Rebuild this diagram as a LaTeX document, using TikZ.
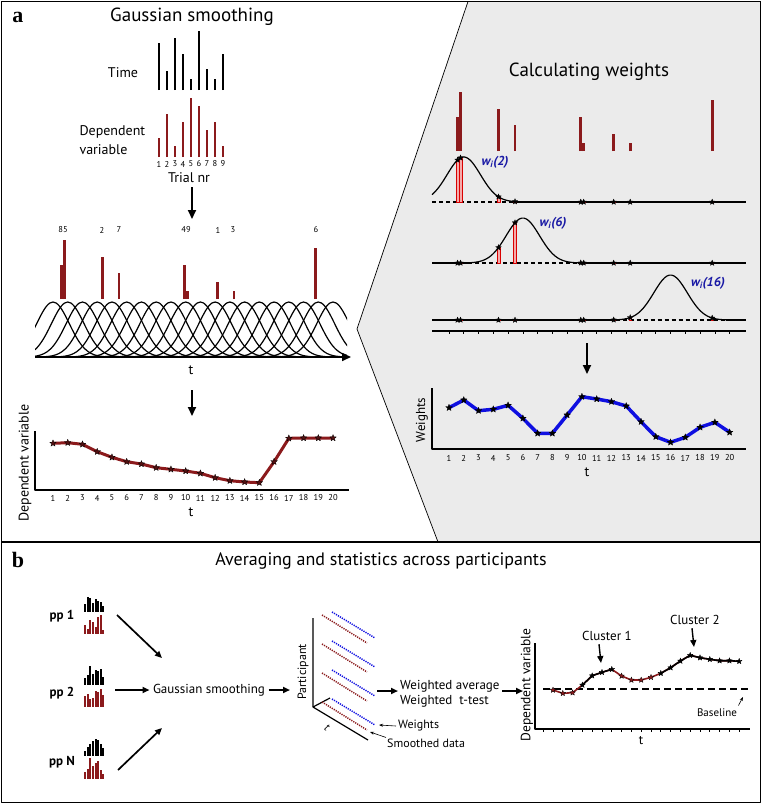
\documentclass[tikz,border=0pt]{standalone}
\usepackage{fontspec}
\setmainfont{PT Sans}
\newfontfamily\panelfont{Liberation Serif}
\usetikzlibrary{arrows.meta,shapes.geometric,positioning,calc}
\definecolor{dred}{RGB}{139,26,28}
\definecolor{wblue}{RGB}{15,15,225}
\definecolor{lblue}{RGB}{25,25,165}
\definecolor{pred}{RGB}{245,170,170}
\newcommand{\fsz}[1]{\fontsize{#1}{#1}\selectfont}

\begin{document}
\begin{tikzpicture}[x=1pt,y=-1pt,>={Triangle[length=9pt,width=8pt]},line join=round]
  \tikzstyle{frame}=[draw, line width=1.4pt]
  \tikzstyle{big}=[font=\fsz{19}]
  \tikzstyle{lab}=[font=\fsz{14}]
  \tikzstyle{num}=[font=\fsz{8.5}, inner sep=0pt]
  \tikzstyle{starpt}=[star, star points=5, star point ratio=2.4, inner sep=0pt,
                      minimum size=7pt, draw=black, fill=black, line width=0.3pt]
  \tikzstyle{curve}=[line width=1.2pt]
  \tikzstyle{bigarrow}=[->, line width=2pt]
  \tikzstyle{midarrow}=[-{Triangle[length=7pt,width=6pt]}, line width=1.7pt]
  \tikzstyle{thinarrow}=[-{Stealth[length=4pt,width=3pt]}, line width=0.6pt]
  \tikzstyle{wlab}=[font=\fsz{13}\bfseries\itshape, text=lblue]

  \useasboundingbox (0,0) rectangle (762,804);
  \fill[white] (0,0) rectangle (762,804);

  % panels
  \filldraw[fill=gray!16, line width=0.7pt] (468,1.5) -- (357,329) -- (438,542)
    -- (760.5,542) -- (760.5,1.5) -- cycle;
  \draw[frame] (1.5,1.5) rectangle (760.5,542);
  \draw[frame] (1.5,542) rectangle (760.5,802.5);
  \node[font=\panelfont\fsz{22}\bfseries] (pa) at (18,17) {a};
  \node[font=\panelfont\fsz{22}\bfseries] (pb) at (18,560) {b};

  %%% a, left: gaussian smoothing
  \node[big] (gs) at (192,17) {Gaussian smoothing};
  \node[lab] (time) at (123,73) {Time};
  \node[align=left, anchor=west, font=\fontsize{14}{19}\selectfont] (dv) at (76,140) {Dependent\\variable};
  \foreach \tp [count=\i] in {43,71,38,54,79,31,69,79,54}
    \draw[line width=1.8pt] ({151+\i*8},90) -- ({151+\i*8},\tp);
  \foreach \tp [count=\i] in {138,114,146,122,98,106,130,122,146}{
    \draw[dred, line width=1.8pt] ({151+\i*8},157) -- ({151+\i*8},\tp);
    \node[num] (n\i) at ({151+\i*8},164) {\i};
  }
  \node[lab] (trial) at (189,178) {Trial nr};
  \coordinate (s1) at (192,187);
  \coordinate (e1) at (192,219);
  \draw[bigarrow] (s1) -- (e1);

  \foreach \tx/\tl in {63/85,102/2,119/7,186/49,218/1,233/3,316/6}
    \node[num] (c\tl) at (\tx,230) {\tl};
  \foreach \tb/\hb in {1.58/34,1.78/59,4.35/42,5.47/26,9.92/34,10.12/8,12.15/17,13.27/8,18.82/51}
    \draw[dred, line width=2.6pt] ({53+(\tb-1)*14.74},299) -- ++(0,-\hb);
  \begin{scope}
    \clip (35,280) rectangle (347,358);
    \foreach \i in {1,...,20}{
      \pgfmathsetmacro\cx{53+(\i-1)*14.74}
      \pgfmathsetmacro\ga{\cx-70}
      \pgfmathsetmacro\gb{\cx+70}
      \draw[curve] plot[domain=\ga:\gb, samples=45, smooth] (\x,{357-55*exp(-((\x-\cx)/16.3)^2/2)});
    }
  \end{scope}
  \coordinate (ax0) at (35,357);
  \coordinate (ax1) at (351,357);
  \draw[bigarrow, line width=1.6pt] (ax0) -- (ax1);
  \node[lab] (tg) at (191,370) {t};
  \coordinate (s2) at (192,390);
  \coordinate (e2) at (192,416);
  \draw[bigarrow] (s2) -- (e2);

  % smoothed result
  \draw[line width=1.1pt] (35,431) -- (35,490) -- (349,490);
  \foreach \i in {1,...,20}
    \node[num] (tl\i) at ({53+(\i-1)*14.74},498) {\i};
  \node[lab] (tt) at (191,512) {t};
  \node[lab, rotate=90] (dvy) at (25,463) {Dependent variable};
  \draw[dred, line width=3pt] (53,443.3) \foreach \y [count=\i from 2] in
    {442.7,444.3,451.7,457.3,461.7,464,467.7,469.3,471,473.3,477.7,480.7,482,482.7,461.7,438.3,438,438,438}
    { -- ({53+(\i-1)*14.74},\y) };
  \foreach \y [count=\i] in
    {443.3,442.7,444.3,451.7,457.3,461.7,464,467.7,469.3,471,473.3,477.7,480.7,482,482.7,461.7,438.3,438,438,438}
    \node[starpt, fill=dred!60!black] (sa\i) at ({53+(\i-1)*14.74},\y) {};

  %%% a, right: calculating weights
  \node[big] (cw) at (589,72) {Calculating weights};
  \foreach \tb/\hb in {1.58/34,1.78/59,4.35/42,5.47/26,9.92/34,10.12/8,12.15/17,13.27/8,18.82/51}
    \draw[dred, line width=2.6pt] ({449+(\tb-1)*14.77},151) -- ++(0,-\hb);
  \foreach \yb/\tc/\lx/\ly in {202/2/495/162, 263/6/553/223, 320/16/708/283}{
    \pgfmathsetmacro\cx{449+(\tc-1)*14.77}
    \pgfmathsetmacro\da{max(432,\cx-55)}
    \pgfmathsetmacro\db{min(746,\cx+55)}
    \pgfmathsetmacro\ga{max(432,\cx-70)}
    \pgfmathsetmacro\gb{min(746,\cx+70)}
    \draw[line width=1.1pt] (432,\yb) -- (\da,\yb) (\db,\yb) -- (746,\yb);
    \draw[line width=1.1pt, dash pattern=on 4pt off 3pt] (\da,\yb) -- (\db,\yb);
    \foreach \tb in {1.58,1.78,4.35,5.47,9.92,10.12,12.15,13.27,18.82}{
      \pgfmathsetmacro\bx{449+(\tb-1)*14.77}
      \pgfmathsetmacro\by{\yb-45*exp(-min(((\bx-\cx)/16.7)^2/2,9))}
      \filldraw[fill=pred, draw=red!85!black, line width=0.5pt] ({\bx-1.3},\yb) rectangle ({\bx+1.3},\by);
    }
    \draw[curve] plot[domain=\ga:\gb, samples=60, smooth] (\x,{\yb-45*exp(-((\x-\cx)/16.7)^2/2)});
    \foreach \tb in {1.58,1.78,4.35,5.47,9.92,10.12,12.15,13.27,18.82}{
      \pgfmathsetmacro\bx{449+(\tb-1)*14.77}
      \pgfmathsetmacro\by{\yb-45*exp(-min(((\bx-\cx)/16.7)^2/2,9))}
      \node[starpt, minimum size=6pt] at (\bx,\by) {};
    }
    \node[wlab] (w\tc) at (\lx,\ly) {w\textsubscript{i}(\tc)};
  }
  \draw[line width=1.1pt] (432,331) -- (746,331);
  \foreach \i in {1,...,20}
    \draw[line width=0.6pt] ({449+(\i-1)*14.77},331) -- ++(0,2.5);
  \coordinate (s3) at (587,343);
  \coordinate (e3) at (587,374);
  \draw[bigarrow] (s3) -- (e3);

  % weights
  \draw[line width=1.1pt] (432,388) -- (432,449) -- (746,449);
  \foreach \i in {1,...,20}
    \node[num] (wl\i) at ({449+(\i-1)*14.77},458) {\i};
  \node[lab] (tw) at (587,472) {t};
  \node[font=\fsz{13}, rotate=90] (wy) at (422,420) {Weights};
  \draw[wblue, line width=3.5pt] (449,407.7) \foreach \y [count=\i from 2] in
    {400,410.7,409.3,405.3,418.3,433.3,433.3,415,396.7,399,401.7,406,421.7,436.7,442.3,437.3,427.3,422.3,432.3}
    { -- ({449+(\i-1)*14.77},\y) };
  \foreach \y [count=\i] in
    {407.7,400,410.7,409.3,405.3,418.3,433.3,433.3,415,396.7,399,401.7,406,421.7,436.7,442.3,437.3,427.3,422.3,432.3}
    \node[starpt] (sw\i) at ({449+(\i-1)*14.77},\y) {};

  %%% b: averaging
  \node[font=\fsz{18}] (avg) at (381,561) {Averaging and statistics across participants};
  \foreach \nm/\ly/\bb/\rb/\bl/\rl in
    {1/616/612/634/{8,15,14,9,13,11,10,6}/{9,5,14,12,7,17,19,4},
     2/693/685/707/{7,10,19,11,15,14,16,8}/{11,13,8,9,16,15,18,12},
     N/762/756/779/{5,9,12,15,17,16,12,8}/{7,10,21,13,16,18,9,5}}{
    \node[font=\fsz{13}\bfseries] (pp\nm) at (62,\ly) {pp \nm};
    \foreach \h [count=\j] in \bl \fill ({81.5+\j*2.6},\bb) rectangle ++(2.1,-\h);
    \foreach \h [count=\j] in \rl \fill[dred] ({81.5+\j*2.6},\rb) rectangle ++(2.1,-\h);
  }
  \node[font=\fsz{13}] (gs2) at (209,690) {Gaussian smoothing};
  \coordinate (p1s) at (117,615);
  \coordinate (p1e) at (162,658);
  \coordinate (p2s) at (115,690);
  \coordinate (pNs) at (118,770);
  \coordinate (pNe) at (162,728);
  \coordinate (g3) at (290,690);
  \draw[midarrow] (p1s) -- (p1e);
  \draw[midarrow] (p2s) -- (gs2.west);
  \draw[midarrow] (pNs) -- (pNe);
  \draw[midarrow] (gs2.east) -- (g3);

  % participants x time
  \node[font=\fsz{12}, rotate=90] (part) at (303,672) {Participant};
  \coordinate (o) at (313,707);
  \draw[line width=1.2pt] (313,618) -- (o) -- (368,740);
  \draw[line width=1.2pt] (o) -- (330,698);
  \node[font=\fsz{11}\itshape, rotate=-35] (tax) at (327,728) {t};
  \foreach \k in {0,...,3}{
    \draw[wblue, line width=1.5pt, dash pattern=on 1.2pt off 1.1pt] (332,{612+29*\k}) -- (375,{638+29*\k});
    \draw[dred, line width=1.5pt, dash pattern=on 1.2pt off 1.1pt] (322,{615+29*\k}) -- (367,{643+29*\k});
  }
  \node[font=\fsz{12}, anchor=west, inner sep=0pt] (wts) at (398,726) {Weights};
  \node[font=\fsz{12}, anchor=west, inner sep=0pt] (sd) at (387,743) {Smoothed data};
  \coordinate (wtip) at (379,725);
  \coordinate (sdtip) at (370,732);
  \draw[thinarrow] ([xshift=-2pt]wts.west) -- (wtip);
  \draw[thinarrow] ([xshift=-1pt,yshift=1pt]sd.north west) -- (sdtip);
  \coordinate (w1s) at (377,691);
  \coordinate (w1e) at (398,691);
  \draw[midarrow] (w1s) -- (w1e);
  \node[font=\fontsize{13}{14.5}\selectfont, align=left, anchor=west, inner sep=0pt] (wa) at (400,694)
    {Weighted average\\Weighted\ \ t-test};
  \coordinate (w2s) at (502,691);
  \coordinate (w2e) at (523,691);
  \draw[midarrow] (w2s) -- (w2e);

  % group result
  \node[font=\fsz{13.5}, rotate=90] (dv2) at (527,685) {Dependent variable};
  \draw[line width=1.2pt] (535,643) -- (535,729) -- (750,729);
  \foreach \k in {0,...,20}
    \draw[line width=0.6pt] ({543+9.8*\k},729) -- ++(0,3);
  \node[font=\fsz{13}] (tb) at (641,741) {t};
  \draw[line width=2.6pt, dash pattern=on 7pt off 4pt] (543,689) -- (749,689);
  \draw[dred, line width=1.6pt] (553,690) \foreach \y [count=\i from 1] in
    {693.3,692.7,685,675.7,672.3,669.3,676,680,680,677.3,673.3,667.7,661,655.3,657.7,659.3,660.7,660.7,661.3}
    { -- ({553+9.8*\i},\y) };
  \draw[line width=1.6pt] (582.4,685) -- (592.2,675.7) -- (602,672.3) -- (611.8,669.3);
  \draw[line width=1.6pt] (660.8,673.3) \foreach \y [count=\i from 12] in
    {667.7,661,655.3,657.7,659.3,660.7,660.7,661.3}
    { -- ({553+9.8*\i},\y) };
  \foreach \y/\cl [count=\i] in
    {690/dred,693.3/dred,692.7/dred,685/black,675.7/black,672.3/black,669.3/black,676/dred,680/dred,680/dred,
     677.3/dred,673.3/black,667.7/black,661/black,655.3/black,657.7/black,659.3/black,660.7/black,660.7/black,661.3/black}
    \node[starpt, minimum size=6pt, fill=\cl] (sg\i) at ({553+9.8*(\i-1)},\y) {};
  \node[font=\fsz{13}] (cl1) at (607,636) {Cluster 1};
  \node[font=\fsz{13}] (cl2) at (695,620) {Cluster 2};
  \node[font=\fsz{11}] (bsl) at (717,713) {Baseline};
  \coordinate (c1e) at (601,663);
  \coordinate (c2e) at (694,647);
  \coordinate (bse) at (743,697);
  \draw[midarrow, line width=1.4pt] ([xshift=-8pt]cl1.south) -- (c1e);
  \draw[midarrow, line width=1.4pt] ([xshift=-3pt]cl2.south) -- (c2e);
  \draw[thinarrow] ([xshift=-2pt]bsl.north east) -- (bse);
\end{tikzpicture}
\end{document}
